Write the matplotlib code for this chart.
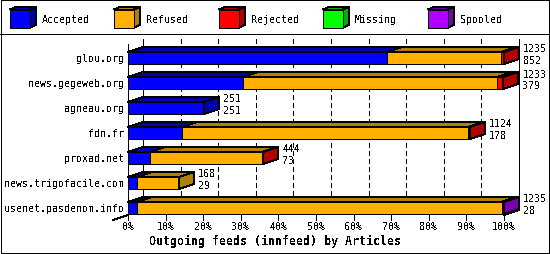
import matplotlib
matplotlib.use("Agg")
import matplotlib.pyplot as plt
from matplotlib.patches import Polygon, Rectangle

# ---- data ----
hosts = ['glou.org', 'news.gegeweb.org', 'agneau.org', 'fdn.fr',
         'proxad.net', 'news.trigofacile.com', 'usenet.pasdenom.info']
offered = [1235, 1233, 251, 1124, 444, 168, 1235]
accepted = [852, 379, 251, 178, 73, 29, 28]
refused = [372, 832, 0, 940, 369, 139, 1199]
rejected = [11, 22, 0, 6, 2, 0, 6]
missing = [0, 0, 0, 0, 0, 0, 0]
spooled = [0, 0, 0, 0, 0, 0, 2]
series_names = ['Accepted', 'Refused', 'Rejected', 'Missing', 'Spooled']
tick_values = [0, 10, 20, 30, 40, 50, 60, 70, 80, 90, 100]
title = 'Outgoing feeds (innfeed) by Articles'

# ---- style ----
front_cols = ['#0000ff', '#ffb000', '#ff0000', '#00ff00', '#b000ff']
dark_cols = ['#0000b0', '#b08000', '#b00000', '#00b000', '#7800b0']
FONT = 'DejaVu Sans Mono'
FS = 7.2
LW = 0.72
plt.rcParams['text.antialiased'] = False

W, H = 550, 255
fig = plt.figure(figsize=(W / 100, H / 100), dpi=100)
fig.patch.set_facecolor('white')

# overlay axes in pixel coords for frame + legend
ov = fig.add_axes([0, 0, 1, 1])
ov.set_xlim(0, W)
ov.set_ylim(H, 0)
ov.axis('off')
ov.add_patch(Rectangle((0.5, 0.5), W - 1.5, H - 1.5, fill=False, ec='black', lw=LW, antialiased=False))
ov.plot([0, W], [34.5, 34.5], color='black', lw=LW, antialiased=False)
leg_x = [10, 114, 219, 323, 428]
for k, name in enumerate(series_names):
    x0 = leg_x[k]
    y0, y1 = 10.5, 28.5
    x1 = x0 + 20
    ddx, ddy = 6, -2.5
    ov.add_patch(Polygon([(x1, y0), (x1 + ddx, y0 + ddy), (x1 + ddx, y1 + ddy), (x1, y1)],
                         closed=True, fc=dark_cols[k], ec='black', lw=LW, antialiased=False))
    ov.add_patch(Polygon([(x0, y0), (x0 + ddx, y0 + ddy), (x1 + ddx, y0 + ddy), (x1, y0)],
                         closed=True, fc=dark_cols[k], ec='black', lw=LW, antialiased=False))
    ov.add_patch(Rectangle((x0, y0), 20, 18, fc=front_cols[k], ec='black', lw=LW, antialiased=False))
    ov.text(x0 + 32, 20, name, family=FONT, fontsize=FS, va='center', ha='left')

# ---- main chart axes ----
ax = fig.add_axes([128 / W, (H - 216) / H, 376 / W, (216 - 34) / H])
ax.set_xlim(0, 100)
ax.set_ylim(6.28, -1.0)
ax.axis('off')

px_per_pct = 376 / 100.0
px_per_row = 25.0
DX = 15 / px_per_pct
DY = -5 / px_per_row
BH = 12 / px_per_row
y_top_front = -0.56
y_bot_front = 6.28
tick_len = 5 / px_per_row

# back wall lines
ax.plot([DX, DX], [y_top_front + DY, y_bot_front + DY], color='black', lw=LW, antialiased=False, clip_on=False, zorder=1)
ax.plot([100 + DX, 100 + DX], [y_top_front + DY, y_bot_front + DY], color='black', lw=LW, antialiased=False, clip_on=False, zorder=1)
for t in tick_values[1:-1]:
    ax.plot([t + DX, t + DX], [y_top_front + DY, y_bot_front + DY], color='black', lw=LW,
            linestyle=(0, (5, 3)), antialiased=False, clip_on=False, zorder=1)
# front left axis
ax.plot([0, 0], [y_top_front, y_bot_front], color='black', lw=LW, antialiased=False, clip_on=False, zorder=5)
ax.plot([0, -DX], [y_bot_front, y_bot_front - DY], color='black', lw=LW, antialiased=False, clip_on=False, zorder=5)
ax.plot([100, 100 + DX], [y_bot_front, y_bot_front + DY], color='black', lw=LW, antialiased=False, clip_on=False, zorder=1)
for t in tick_values:
    ax.plot([t, t], [y_bot_front, y_bot_front + tick_len], color='black', lw=LW, antialiased=False, clip_on=False, zorder=5)
    ax.text(t, 6.72, f'{t}%', family=FONT, fontsize=FS, ha='center', va='center')

maxv = max(offered)
series = [accepted, refused, rejected, missing, spooled]
for i, host in enumerate(hosts):
    top = i - BH / 2
    bot = i + BH / 2
    left = 0.0
    last_k = None
    for k, s in enumerate(series):
        v = s[i] / maxv * 100
        if v <= 0:
            continue
        right = left + v
        ax.barh(i, v, left=left, height=BH, color=front_cols[k], edgecolor='black',
                linewidth=LW, antialiased=False, zorder=3, clip_on=False)
        ax.add_patch(Polygon([(left, top), (right, top), (right + DX, top + DY), (left + DX, top + DY)],
                             closed=True, fc=dark_cols[k], ec='black', lw=LW, antialiased=False,
                             zorder=3, clip_on=False))
        left = right
        last_k = k
    ax.add_patch(Polygon([(left, top), (left + DX, top + DY), (left + DX, bot + DY), (left, bot)],
                         closed=True, fc=dark_cols[last_k], ec='black', lw=LW, antialiased=False,
                         zorder=3, clip_on=False))
    tx = offered[i] / maxv * 100 + 19 / px_per_pct
    ax.text(tx, i - 9.5 / px_per_row, str(offered[i]), family=FONT, fontsize=FS, ha='left', va='center', clip_on=False)
    ax.text(tx, i + 2 / px_per_row, str(accepted[i]), family=FONT, fontsize=FS, ha='left', va='center', clip_on=False)
    ax.text(-4 / px_per_pct, i, host, family=FONT, fontsize=FS, ha='right', va='center')

fig.text(0.5, 1 - 241 / H, title, family=FONT, fontsize=8.4, fontweight='bold', ha='center', va='center')

fig.savefig('out.png', dpi=100)
